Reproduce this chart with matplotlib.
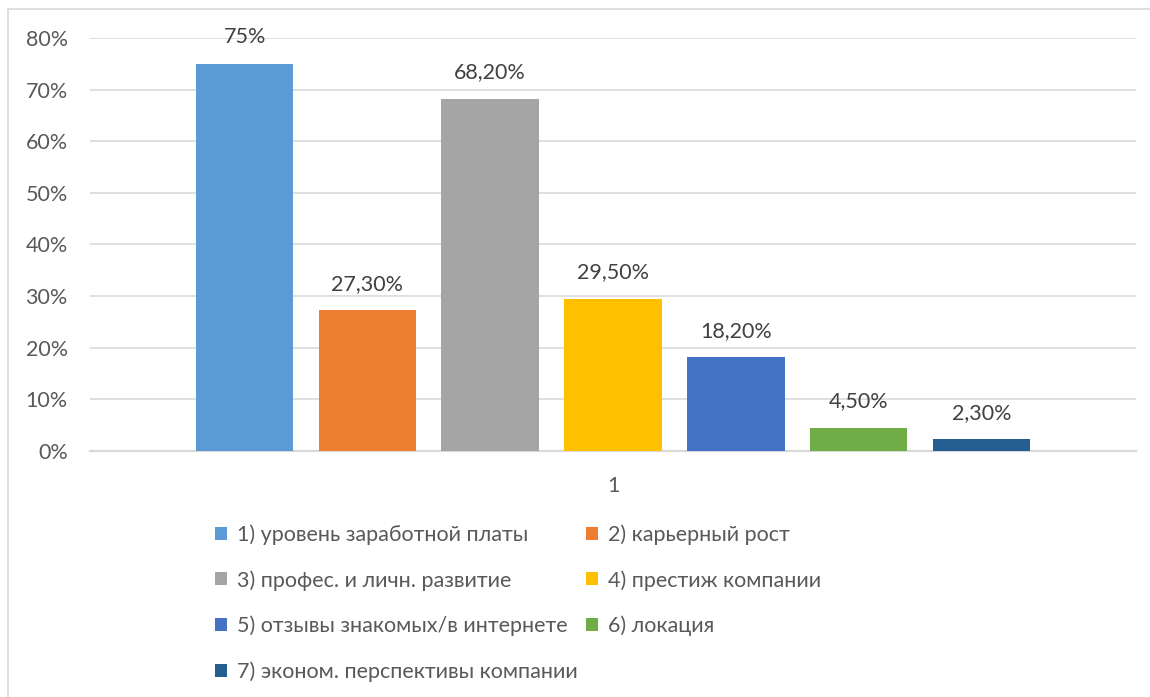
"""Bar chart: factors when choosing an employer (share of respondents)."""
import matplotlib
matplotlib.use("Agg")
import matplotlib.pyplot as plt
from matplotlib.patches import Rectangle, Patch
from matplotlib.ticker import FuncFormatter

labels = [
    "1) уровень заработной платы",
    "2) карьерный рост",
    "3) профес. и личн. развитие",
    "4) престиж компании",
    "5) отзывы знакомых/в интернете",
    "6) локация",
    "7) эконом. перспективы компании",
]
values = [75.0, 27.3, 68.2, 29.5, 18.2, 4.5, 2.3]
colors = ["#5b9bd5", "#ed7d31", "#a5a5a5", "#ffc000", "#4472c4", "#70ad47", "#255e91"]
category = "1"
yticks = [0, 10, 20, 30, 40, 50, 60, 70, 80]

TEXT = "#595959"
GRID = "#d9d9d9"
FS = 15.5
plt.rcParams["font.family"] = ["Lato", "DejaVu Sans"]


def fmt_label(v):
    if float(v).is_integer():
        return f"{int(v)}%"
    return f"{v:.2f}%".replace(".", ",")


W, H = 1150, 697
fig = plt.figure(figsize=(W / 100, H / 100), dpi=100)
ax = fig.add_axes([90 / W, (H - 451) / H, (1136 - 90) / W, (451 - 38) / H])

xs = list(range(len(values)))
bars = ax.bar(xs, values, width=0.795, color=colors, zorder=3)
for b, v in zip(bars, values):
    ax.annotate(fmt_label(v), (b.get_x() + b.get_width() / 2, v),
                xytext=(0, 19), textcoords="offset points",
                ha="center", va="center", fontsize=FS, color="#404040")

ax.set_xlim(3 - 4.26, 3 + 4.26)
ax.set_ylim(0, 80)
ax.set_yticks(yticks)
ax.yaxis.set_major_formatter(FuncFormatter(lambda v, _: f"{v:.0f}%"))
ax.tick_params(axis="y", length=0, pad=16, labelsize=FS, labelcolor=TEXT)
ax.set_xticks([3])
ax.set_xticklabels([category])
ax.tick_params(axis="x", length=0, pad=18, labelsize=FS, labelcolor=TEXT)
ax.grid(axis="y", color=GRID, linewidth=1.2, zorder=0)
for s in ("top", "right", "left"):
    ax.spines[s].set_visible(False)
ax.spines["bottom"].set_color(GRID)
ax.spines["bottom"].set_linewidth(1.6)

# legend filled row by row: 1 2 / 3 4 / 5 6 / 7
order = [0, 2, 4, 6, 1, 3, 5]
handles = [Patch(facecolor=colors[i], label=labels[i]) for i in order]
fig.legend(handles=handles, ncol=2, loc="upper left",
           bbox_to_anchor=(196 / W, (H - 505) / H), frameon=False,
           fontsize=FS, labelcolor=TEXT, handlelength=0.55, handleheight=0.55,
           handletextpad=0.45, labelspacing=1.16, columnspacing=0.4)

# light chart-area border
fig.add_artist(Rectangle((8 / W, -0.1), 1.2, (H - 9) / H + 0.1,
                         transform=fig.transFigure, fill=False,
                         edgecolor=GRID, linewidth=1.2))

fig.savefig("out.png", dpi=100, facecolor="white")
